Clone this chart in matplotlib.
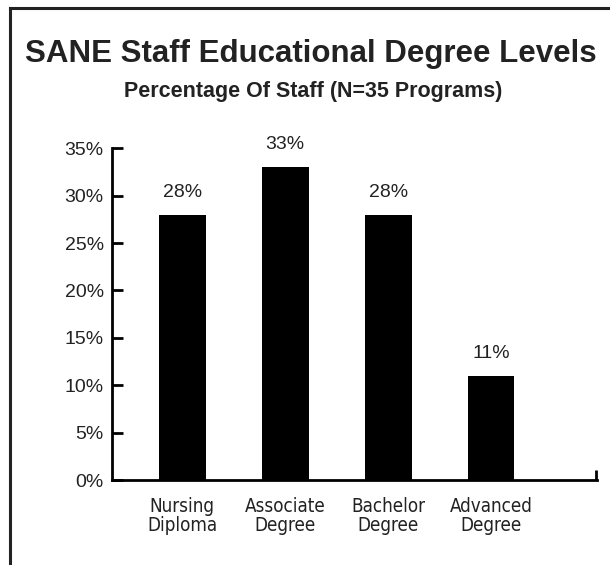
import matplotlib
matplotlib.use('Agg')
import matplotlib.pyplot as plt
from matplotlib.lines import Line2D
import numpy as np

# DADOS DO GRÁFICO
categorias = ['Nursing\nDiploma', 'Associate\nDegree', 'Bachelor\nDegree', 'Advanced\nDegree']
porcentagens = [28, 33, 28, 11]
rotulos_y = ['0%', '5%', '10%', '15%', '20%', '25%', '30%', '35%']
valores_y = [0, 5, 10, 15, 20, 25, 30, 35]

plt.rcParams['font.family'] = ['Liberation Sans', 'DejaVu Sans']
cor_texto = '#222222'

fig = plt.figure(figsize=(6.1, 5.65), dpi=100)
ax = fig.add_axes([0.1836, 0.1504, 0.7951, 0.5872])

x = np.arange(len(categorias))
barras = ax.bar(x, porcentagens, width=0.456, color='black')

ax.set_xlim(-0.684, 3 + 1.03)
ax.set_ylim(0, 35)

ax.set_yticks(valores_y)
ax.set_yticklabels(rotulos_y, fontsize=14, color=cor_texto)
ax.tick_params(axis='y', direction='in', length=8, width=2, pad=6)

ax.set_xticks(x)
ax.set_xticklabels(categorias, fontsize=13.5, color=cor_texto,
                   family='DejaVu Sans', stretch='condensed', linespacing=1.05)
ax.tick_params(axis='x', length=0, pad=12)
ax.set_xticks([3 + 1.03 - 0.01], minor=True)
ax.tick_params(axis='x', which='minor', direction='in', length=7, width=2)

for lado in ['top', 'right']:
    ax.spines[lado].set_visible(False)
for lado in ['left', 'bottom']:
    ax.spines[lado].set_linewidth(2)

for b, v in zip(barras, porcentagens):
    ax.annotate(f'{v}%', (b.get_x() + b.get_width() / 2, v), xytext=(0, 10),
                textcoords='offset points', ha='center', va='bottom',
                fontsize=14, color=cor_texto)

fig.text(0.51, 0.890, 'SANE Staff Educational Degree Levels', ha='center', va='baseline',
         fontsize=22.5, fontweight='bold', color=cor_texto)
fig.text(0.514, 0.829, 'Percentage Of Staff (N=35 Programs)', ha='center', va='baseline',
         fontsize=15.5, fontweight='bold', color=cor_texto)

# MOLDURA (SÓ TOPO E ESQUERDA)
fig.add_artist(Line2D([0.0164, 1.0], [0.9858, 0.9858], color=cor_texto, lw=2.2))
fig.add_artist(Line2D([0.0164, 0.0164], [0.0, 0.9858], color=cor_texto, lw=2.2))

fig.savefig('out.png', dpi=100)
